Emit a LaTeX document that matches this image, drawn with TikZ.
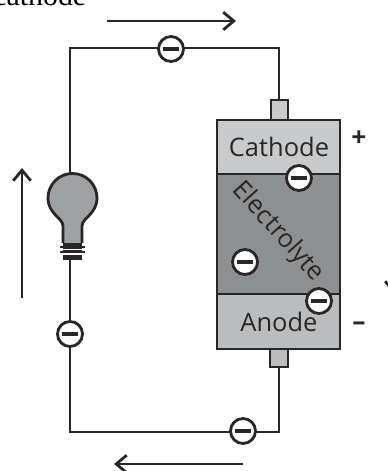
\documentclass[tikz,border=0pt]{standalone}
\usepackage{tikz}
\usepackage{fontspec}
\usetikzlibrary{arrows.meta}
\setmainfont{Liberation Serif}
\newfontfamily\labelfont{Open Sans}
\definecolor{wirecol}{HTML}{2B2626}
\definecolor{cathodegrey}{HTML}{C8CACC}
\definecolor{lightgrey}{HTML}{BABCBE}
\definecolor{darkgrey}{HTML}{8E8F91}
\definecolor{bulbgrey}{HTML}{A0A1A3}

\begin{document}
\begin{tikzpicture}[x=0.02cm,y=-0.02cm,
    wire/.style ={draw=wirecol, line width=1.6pt},
    flow/.style ={draw=wirecol, line width=1.6pt, -{Straight Barb[length=6pt,width=10pt,line width=1.6pt]}},
    electron/.style ={circle, draw=wirecol, line width=1.6pt, fill=white, minimum size=0.5cm, inner sep=0pt},
    part/.style ={font=\labelfont\fontsize{14.5}{14.5}\selectfont, text=wirecol, inner sep=0pt},
    sign/.style ={font=\labelfont\bfseries\fontsize{15}{15}\selectfont, text=wirecol, inner sep=0pt},
    lead/.style ={draw=wirecol, line width=1.6pt}]
   \useasboundingbox (0,0) rectangle (388,471);

   \node[font=\fontsize{17}{17}\selectfont, anchor=base west, inner sep=0pt] (title) at (-7,5) {cathode};

   % cell
   \draw[lead, fill=cathodegrey] (271,100) rectangle (288,120);
   \draw[lead, fill=lightgrey] (270,349) rectangle (288,367);
   \fill[cathodegrey] (217,120) rectangle (340,174);
   \fill[darkgrey] (217,174) rectangle (340,294);
   \fill[lightgrey] (217,294) rectangle (340,349);
   \draw[wire] (217,174) -- (340,174);
   \draw[wire] (217,294) -- (340,294);
   \draw[wire] (217,120) rectangle (340,349);

   \node[part] (cathode) at (279,147) {Cathode};
   \node[part] (anode) at (279,322) {Anode};
   \node[part, rotate=-48] (electrolyte) at (278,232) {Electrolyte};
   \node[sign] (plus) at (359,139) {+};
   \node[sign] (minus) at (359,326) {–};

   % circuit
   \coordinate (top) at (279,100);
   \coordinate (bottom) at (279,367);
   \coordinate (tl) at (70,48);
   \coordinate (tr) at (279,48);
   \coordinate (bl) at (70,432);
   \coordinate (br) at (279,432);
   \coordinate (bulbtop) at (70,174);
   \coordinate (bulbend) at (70,260);

   \draw[wire] (bulbtop) -- (tl) -- (tr) -- (top);
   \draw[wire] (bottom) -- (br) -- (bl) -- (bulbend);

   % bulb
   \draw[draw=wirecol, line width=1.6pt, fill=bulbgrey]
     (63,243) -- (63,226) .. controls (63,218) and (48,214) .. (48,198)
     arc[start angle=180, end angle=360, radius=24.5]
     .. controls (97,214) and (82,218) .. (82,226) -- (82,243);
   \fill[wirecol] (63,243) rectangle (82,260);
   \draw[line width=1pt, draw=white] (63,249.5) -- (82,249.5);
   \draw[line width=1pt, draw=white] (63,254) -- (82,254);
   \draw[line width=1pt, draw=wirecol] (60,247) -- (85,247);
   \draw[line width=1pt, draw=wirecol] (60,252) -- (85,252);

   % electrons
   \node[electron] (e1) at (171,49) {};
   \node[electron] (e2) at (299,178) {};
   \node[electron] (e3) at (245,262) {};
   \node[electron] (e4) at (319,301) {};
   \node[electron] (e5) at (70,334) {};
   \node[electron] (e6) at (243,431) {};
   \foreach \e in {e1,e2,e3,e4,e5,e6}
     \draw[draw=wirecol, line width=2pt] ([xshift=-0.17cm]\e.center) -- ([xshift=0.17cm]\e.center);

   % arrows
   \coordinate (a1) at (107,21);
   \coordinate (a2) at (236,21);
   \coordinate (b1) at (22,298);
   \coordinate (b2) at (22,168);
   \coordinate (c1) at (243,464);
   \coordinate (c2) at (114,464);
   \coordinate (d1) at (394,160);
   \coordinate (d2) at (394,294);
   \draw[flow] (a1) -- (a2);
   \draw[flow] (b1) -- (b2);
   \draw[flow] (c1) -- (c2);
   \draw[flow] (d1) -- (d2);
 \end{tikzpicture}
\end{document}
